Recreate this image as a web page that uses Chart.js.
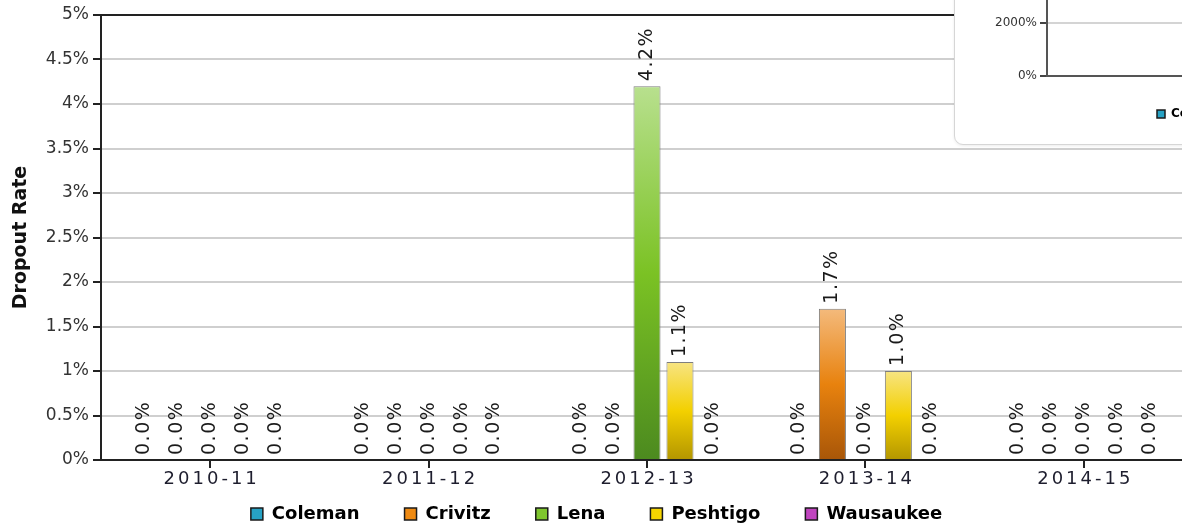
<!DOCTYPE html>
<html>
<head>
<meta charset="utf-8">
<script src="https://cdn.jsdelivr.net/npm/chart.js@4.4.1/dist/chart.umd.min.js"></script>
<style>
html, body { margin: 0; padding: 0; background: #fff; overflow: hidden; width: 1182px; height: 525px; }
#wrap { position: absolute; left: 0; top: 0; width: 1200px; height: 525px; }
#inset { position: absolute; left: 954px; top: -60px; width: 1000px; height: 203px; background: #fff;
         border: 1px solid #d6d6d6; border-radius: 9px; box-shadow: 0 1px 3px rgba(0,0,0,0.08); }
canvas { display: block; }
</style>
</head>
<body>
<div id="wrap"><canvas id="myChart" width="1200" height="525"></canvas></div>
<div id="inset"><canvas id="insetChart" width="998" height="201"></canvas></div>
<script>
// data
const years = ['2010-11', '2011-12', '2012-13', '2013-14', '2014-15'];
const schools = ['Coleman', 'Crivitz', 'Lena', 'Peshtigo', 'Wausaukee'];
const coleman = [0, 0, 0, 0, 0];
const crivitz = [0, 0, 0, 1.7, 0];
const lena = [0, 0, 4.2, 0, 0];
const peshtigo = [0, 0, 1.1, 1.0, 0];
const wausaukee = [0, 0, 0, 0, 0];
const yMax = 5;
const yStep = 0.5;
const insetMax = 4000;
const insetStep = 2000;

// colours: legend swatch + bar gradient (top, middle, bottom)
const swatch = ['#27a2c4', '#ef8a12', '#7fc62e', '#f6d500', '#c044bf'];
const shades = [
    ['#8fd3e6', '#25a0c2', '#16708a'],
    ['#f4ba7c', '#e8820e', '#a85608'],
    ['#b8e08e', '#7bc224', '#4c8a1f'],
    ['#f7e482', '#f3d000', '#b39600'],
    ['#e29ae0', '#c044bf', '#86297f']
];
const seriesValues = [coleman, crivitz, lena, peshtigo, wausaukee];

function barFill(i) {
    return function(c) {
        const chart = c.chart;
        const y = chart.scales && chart.scales.y;
        if (!chart.chartArea || !y || c.raw === undefined) return shades[i][1];
        const top = y.getPixelForValue(c.raw);
        const bottom = y.getPixelForValue(0);
        if (bottom - top < 1) return shades[i][1];
        const g = chart.ctx.createLinearGradient(0, top, 0, bottom);
        g.addColorStop(0, shades[i][0]);
        g.addColorStop(0.5, shades[i][1]);
        g.addColorStop(1, shades[i][2]);
        return g;
    };
}

function legendItems(chart) {
    return chart.data.datasets.map((ds, i) => ({
        text: ds.label,
        fillStyle: swatch[i],
        strokeStyle: '#1a1a1a',
        lineWidth: 1.5,
        hidden: false,
        datasetIndex: i
    }));
}

// moves the legend box where the picture has it
const legendPlace = {
    id: 'legendPlace',
    afterLayout(chart, args, opts) {
        const lg = chart.legend;
        if (!lg) return;
        if (opts.height != null) lg.height = opts.height;
        if (opts.top != null) { lg.top = opts.top; lg.bottom = opts.top + lg.height; }
        if (opts.left != null) { const w = lg.width; lg.left = opts.left; lg.right = opts.left + w; }
    }
};

// rotated value labels above every bar
const barLabels = {
    id: 'barLabels',
    afterDatasetsDraw(chart) {
        const ctx = chart.ctx;
        ctx.save();
        ctx.font = '19px "DejaVu Sans"';
        ctx.letterSpacing = '1.5px';
        ctx.fillStyle = '#1a1a1a';
        ctx.textAlign = 'left';
        ctx.textBaseline = 'middle';
        chart.data.datasets.forEach((ds, di) => {
            chart.getDatasetMeta(di).data.forEach((bar, i) => {
                ctx.save();
                ctx.translate(bar.x, bar.y - 5);
                ctx.rotate(-Math.PI / 2);
                ctx.fillText(ds.data[i].toFixed(1) + '%', 0, 0);
                ctx.restore();
            });
        });
        ctx.letterSpacing = '0px';
        ctx.restore();
    }
};

// category names, spaced out like the original
const yearLabels = {
    id: 'yearLabels',
    afterDraw(chart) {
        const ctx = chart.ctx;
        const xs = chart.scales.x;
        ctx.save();
        ctx.font = '18px "DejaVu Sans"';
        ctx.letterSpacing = '3px';
        ctx.fillStyle = '#1e1e2e';
        ctx.textAlign = 'center';
        ctx.textBaseline = 'middle';
        chart.data.labels.forEach((lab, i) => {
            ctx.fillText(lab, xs.getPixelForValue(i) + 1.5, 479);
        });
        ctx.letterSpacing = '0px';
        ctx.restore();
    }
};

const ctx = document.getElementById('myChart').getContext('2d');
const myChart = new Chart(ctx, {
    type: 'bar',
    data: {
        labels: years,
        datasets: schools.map((name, i) => ({
            label: name,
            data: seriesValues[i],
            backgroundColor: barFill(i),
            borderColor: '#7e7e7e',
            borderWidth: 1,
            categoryPercentage: 0.755,
            barPercentage: 0.82
        }))
    },
    plugins: [legendPlace, barLabels, yearLabels],
    options: {
        responsive: false,
        animation: false,
        layout: { padding: { top: 15, right: 7, left: 0, bottom: 0 } },
        plugins: {
            tooltip: { enabled: false },
            legend: {
                position: 'bottom',
                maxHeight: 36,
                labels: {
                    boxWidth: 12,
                    boxHeight: 12,
                    padding: 45,
                    color: '#1c1c30',
                    font: { family: 'DejaVu Sans', size: 18, weight: 'bold' },
                    generateLabels: legendItems
                }
            },
            legendPlace: { top: 460, height: 65 }
        },
        scales: {
            x: {
                ticks: { display: false },
                grid: { drawOnChartArea: false, drawTicks: true, tickLength: 8, offset: false, tickColor: '#222', lineWidth: 2 },
                border: { color: '#222', width: 2 },
                afterFit: s => { s.height = 29; }
            },
            y: {
                min: 0,
                max: yMax,
                ticks: {
                    stepSize: yStep,
                    padding: 4,
                    color: '#333',
                    font: { family: 'DejaVu Sans', size: 17 },
                    callback: v => v + '%'
                },
                grid: {
                    color: c => (c.tick && c.tick.value === yMax) ? '#222' : '#cfcfcf',
                    lineWidth: 2,
                    tickColor: '#222',
                    tickLength: 8
                },
                border: { color: '#222', width: 2 },
                title: {
                    display: true,
                    text: 'Dropout Rate',
                    color: '#111',
                    padding: { top: 10, bottom: 0 },
                    font: { family: 'DejaVu Sans', size: 19, weight: 'bold' }
                },
                afterFit: s => { s.width = 101; }
            }
        }
    }
});

// the partly visible popup chart in the top right corner
const insetChart = new Chart(document.getElementById('insetChart').getContext('2d'), {
    type: 'bar',
    data: {
        labels: years,
        datasets: schools.map((name, i) => ({ label: name, data: [], backgroundColor: swatch[i] }))
    },
    plugins: [legendPlace],
    options: {
        responsive: false,
        animation: false,
        layout: { padding: { top: 29.5, right: 0, left: 0, bottom: 0 } },
        plugins: {
            tooltip: { enabled: false },
            legend: {
                position: 'bottom',
                align: 'start',
                labels: {
                    boxWidth: 8,
                    boxHeight: 8,
                    padding: 10,
                    color: '#1c1c30',
                    font: { family: 'DejaVu Sans', size: 12, weight: 'bold' },
                    generateLabels: legendItems
                }
            },
            legendPlace: { top: 157, left: 192 }
        },
        scales: {
            x: {
                ticks: { display: false },
                grid: { display: false },
                border: { color: '#555', width: 2 },
                afterFit: s => { s.height = 34.5; }
            },
            y: {
                min: 0,
                max: insetMax,
                ticks: {
                    stepSize: insetStep,
                    padding: 3,
                    color: '#333',
                    font: { family: 'DejaVu Sans', size: 12 },
                    callback: v => v + '%'
                },
                grid: { color: '#d4d4d4', lineWidth: 2, tickColor: '#444', tickLength: 7 },
                border: { color: '#555', width: 2 },
                afterFit: s => { s.width = 92; }
            }
        }
    }
});
</script>
</body>
</html>
